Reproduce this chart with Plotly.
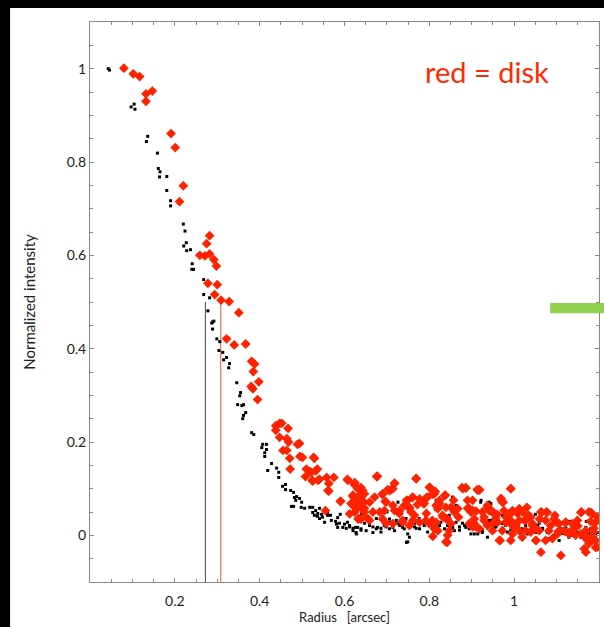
import plotly.graph_objects as go

# Black points: (radius, intensity)
black_x = [0.043,0.046,0.097,0.104,0.106,0.133,0.136,0.159,0.161,0.165,0.164,0.181,0.181,0.190,0.190,
           0.220,0.224,0.227,0.221,0.228,0.237,0.241,0.244,0.240,0.268,0.268,0.282,0.278,
           0.287,0.289,0.292,0.289,0.299,0.306,0.304,0.313,0.315,0.322,0.329,0.327,0.346,0.355,0.353,
           0.348,0.358,0.362,0.367,0.362,0.360,0.381,0.386,0.405,0.407,0.416,0.412,0.416,0.412,
           0.428,0.419,0.440,0.445,0.445,0.454,0.461,0.461,0.473,0.480,0.482,0.487,0.494,0.485,0.499,0.475,0.480,
           0.506,0.518,0.532,0.541,0.525,0.536,0.546,0.560,0.567,0.579,0.584,0.581,0.600,0.607,0.626,
           0.498,0.525,0.529,0.537,0.541,0.548,0.553,0.560,0.569,0.588,0.584,0.596,0.604,0.612,0.620,0.627,0.631,
           0.639,0.647,0.659,0.667,0.675,0.678,0.686,0.694,0.706,0.714,0.722,0.729,0.737,0.746,0.745,0.757,0.765,
           0.769,0.776,0.784,0.796,0.808,0.820,0.827,0.843,0.855,0.863,0.871,0.878,0.886,0.894,0.902,0.910,0.918,
           0.925,0.933,0.941,0.945,0.953,0.961,0.973,0.980,0.992,1.000,1.008,1.016,1.027,1.035,1.043,1.051,1.059,
           1.067,1.078,1.086,1.094,1.102,1.114,1.122,1.129,1.141,1.149,1.157,1.169,1.176,1.188,1.196,
           0.855,0.894,0.922,0.985,1.050,1.100,0.700,0.760,0.650,0.815,1.130,1.170,0.590,0.640,
           0.628,0.639,0.651,0.667,0.675,0.686,0.698,0.706,0.718,0.730,0.741,0.749,0.765,0.777,0.788,0.796,
           0.808,0.824,0.836,0.847,0.859,0.871,0.883,0.894,0.906,0.706,0.722,0.769,0.792,0.847,0.863,0.726,
           0.792,0.816,0.855,0.753,0.659,0.612,0.620,0.749,
           0.902,0.914,0.925,0.937,0.945,0.957,0.972,0.984,0.996,1.008,1.019,1.031,1.047,1.055,1.067,1.086,
           1.098,1.110,1.121,1.133,1.145,1.161,1.172,1.180,1.192,0.921,0.941,0.972,1.027,1.063,1.121,1.145,
           1.082,1.106,0.898]
black_y = [1.000,0.997,0.918,0.924,0.913,0.844,0.855,0.819,0.786,0.779,0.768,0.769,0.739,0.717,0.706,
           0.667,0.652,0.627,0.620,0.610,0.612,0.582,0.570,0.570,0.548,0.516,0.509,0.481,
           0.455,0.457,0.459,0.442,0.421,0.415,0.396,0.392,0.376,0.381,0.368,0.359,0.327,0.306,0.299,
           0.280,0.278,0.280,0.263,0.257,0.250,0.220,0.216,0.188,0.195,0.195,0.177,0.184,0.169,
           0.154,0.139,0.144,0.135,0.124,0.105,0.109,0.098,0.096,0.092,0.081,0.083,0.079,0.075,0.071,0.062,0.062,
           0.058,0.060,0.053,0.058,0.049,0.041,0.045,0.049,0.043,0.030,0.038,0.024,0.024,0.028,0.017,
           0.060,0.060,0.043,0.047,0.036,0.039,0.028,0.043,0.032,0.026,0.017,0.017,0.015,0.021,0.015,0.006,0.017,
           0.011,0.026,0.021,0.006,0.036,0.017,0.015,0.021,0.028,0.017,0.032,0.026,0.017,-0.015,0.036,0.032,0.026,
           0.015,0.036,0.028,0.026,0.032,0.017,0.028,0.021,0.017,0.028,0.011,0.026,0.017,0.028,0.015,0.026,0.017,
           0.006,0.021,0.032,0.068,0.017,0.026,0.015,0.021,0.011,0.026,0.015,0.006,0.021,0.011,0.017,0.006,0.026,
           0.015,0.006,0.017,0.000,0.011,0.004,0.015,-0.004,0.021,0.006,-0.004,0.017,0.004,0.026,0.006,
           0.081,0.075,0.075,0.050,0.045,0.040,0.050,0.048,0.040,0.055,0.030,0.030,0.045,0.045,
           0.003,0.014,0.010,0.018,0.014,0.007,0.018,0.014,0.010,0.021,0.014,0.003,0.018,0.014,0.021,0.007,
           0.018,0.021,0.014,0.025,0.010,0.018,0.021,0.014,0.003,0.035,0.025,0.032,0.039,0.043,0.064,0.071,
           0.075,0.075,0.082,-0.004,0.028,0.018,0.010,-0.014,
           0.028,0.003,0.010,-0.004,0.032,0.018,0.025,0.007,0.018,0.028,0.014,0.003,0.010,0.021,0.014,0.018,
           0.007,0.014,0.003,0.000,0.010,-0.004,0.007,0.014,0.000,0.071,0.071,0.043,0.043,0.035,0.032,0.021,
           -0.007,-0.011,0.003]

# Red points (disk)
red_x = [0.080,0.102,0.117,0.132,0.147,0.132,0.191,0.201,0.220,0.211,
         0.282,0.275,0.259,0.271,0.282,0.292,0.298,0.278,0.300,0.294,0.309,0.328,0.351,
         0.322,0.340,0.367,0.381,0.388,0.385,0.398,0.380,0.384,0.395,
         0.438,0.447,0.452,0.438,0.467,0.447,0.464,0.468,0.489,0.494,0.455,0.464,0.471,0.495,0.501,0.527,0.529,
         0.510,0.472,0.508,0.518,0.532,0.536,0.522,0.558,0.525,0.541,0.524,0.537,0.563,0.561,0.563,0.575,
         0.607,0.591,0.624,0.620,0.555,
         0.590,0.608,0.624,0.620,0.631,0.639,0.635,0.643,0.616,0.627,0.643,0.624,0.639,0.647,0.634,0.655,
         0.676,0.689,0.696,0.702,0.710,0.718,0.698,0.718,0.729,0.741,0.746,0.753,0.760,0.769,0.772,0.765,0.753,
         0.786,0.793,0.802,0.807,0.814,0.793,0.807,0.808,0.824,0.831,0.839,0.838,0.842,0.851,0.857,0.869,0.877,
         0.886,0.890,0.902,0.902,0.918,0.929,0.937,0.947,0.957,0.967,0.969,0.974,0.981,0.990,0.992,0.996,1.000,
         1.008,1.016,1.024,1.034,1.043,1.052,1.063,1.065,1.078,1.086,1.096,1.100,1.110,1.122,1.129,1.141,1.157,
         1.165,1.169,1.173,1.181,1.184,1.188,1.192,1.196,0.677,0.624,0.913,1.150,1.180,1.060,1.030,0.960,
         0.677,0.624,0.643,0.636,0.647,0.620,0.616,0.643,0.632,0.647,0.659,0.671,0.690,0.706,0.714,0.718,
         0.698,0.694,0.714,0.730,0.737,0.749,0.753,0.761,0.757,0.769,0.777,0.788,0.796,0.800,0.812,0.816,
         0.820,0.824,0.836,0.839,0.843,0.832,0.816,0.812,0.820,0.800,0.792,0.847,0.851,0.859,0.867,0.879,
         0.886,0.890,0.894,0.902,0.914,0.906,0.910,0.839,0.843,0.777,0.761,0.737,0.714,0.690,0.683,0.667,
         0.659,0.639,0.632,0.624,0.612,
         0.918,0.992,0.969,0.972,0.894,0.898,0.910,0.925,0.937,0.941,0.949,0.953,0.976,0.988,0.996,1.012,
         1.019,1.027,1.039,1.043,1.063,1.076,1.074,1.094,1.106,1.121,1.137,1.149,1.159,1.176,1.184,1.192,
         0.906,0.929,0.949,0.961,0.980,0.992,1.004,1.012,1.027,1.039,1.051,1.059,1.082,1.090,1.102,1.118,
         1.129,1.145,1.157,1.169,1.176,1.184,1.192,1.165,0.949,0.965,0.992,0.996,1.019,1.051,1.074,0.894,
         0.902,0.918,0.937,0.972,1.012,1.106,1.137,1.169,1.188,1.196]
red_y = [1.001,0.989,0.983,0.946,0.952,0.930,0.861,0.831,0.749,0.715,
         0.642,0.625,0.600,0.599,0.603,0.591,0.577,0.540,0.537,0.516,0.504,0.501,0.477,
         0.421,0.408,0.410,0.373,0.367,0.351,0.329,0.319,0.314,0.291,
         0.235,0.240,0.240,0.225,0.229,0.210,0.207,0.200,0.195,0.197,0.182,0.182,0.165,0.169,0.167,0.167,0.165,
         0.142,0.142,0.126,0.137,0.138,0.142,0.135,0.124,0.116,0.120,0.118,0.118,0.095,0.096,0.111,0.124,
         0.120,0.073,0.108,0.083,0.053,
         0.073,0.118,0.111,0.086,0.100,0.102,0.086,0.089,0.068,0.074,0.074,0.060,0.060,0.058,0.036,0.036,
         0.126,0.088,0.073,0.098,0.098,0.111,0.026,0.053,0.047,0.064,0.075,0.058,0.081,0.122,0.066,0.043,0.021,
         0.068,0.081,0.102,0.088,0.094,0.047,0.032,-0.002,0.068,0.043,0.036,0.086,-0.015,0.060,0.075,0.039,0.102,
         0.102,0.058,0.075,0.053,0.098,0.039,0.064,0.053,0.036,-0.011,0.079,0.071,0.039,0.026,0.100,0.053,0.015,
         0.047,0.053,0.032,0.043,0.021,-0.011,-0.036,0.049,0.049,0.021,0.043,0.028,-0.043,0.028,0.006,0.015,0.049,
         0.006,-0.036,-0.004,0.049,-0.011,0.015,-0.026,0.039,0.126,0.113,0.098,0.020,0.030,0.035,0.060,0.045,
         0.127,0.112,0.096,0.085,0.089,0.085,0.068,0.068,0.060,0.050,0.071,0.082,0.089,0.096,0.100,0.112,
         0.071,0.053,0.064,0.053,0.032,0.075,0.060,0.082,0.050,0.121,0.078,0.068,0.082,0.103,0.089,0.064,
         0.057,0.075,0.085,0.060,0.035,0.039,0.028,0.014,0.010,0.025,0.032,0.010,0.025,0.050,0.057,0.100,
         0.101,0.075,0.057,0.053,0.097,0.025,0.018,-0.014,0.000,0.028,0.032,0.028,0.025,0.035,0.050,0.050,
         0.032,0.035,0.035,0.050,0.046,
         0.097,0.100,0.076,0.071,0.057,0.050,0.052,0.050,0.060,0.053,0.050,0.046,0.053,0.046,0.050,0.057,
         0.050,0.032,0.039,0.025,0.050,0.050,0.032,0.035,0.025,0.028,0.025,0.032,0.050,0.050,0.046,0.028,
         0.035,0.032,0.025,0.028,0.028,0.032,0.021,0.032,0.010,0.007,0.014,0.010,0.010,-0.007,0.003,0.010,
         0.003,0.000,0.003,-0.007,-0.018,-0.004,-0.011,-0.029,0.010,-0.011,-0.011,0.003,-0.004,-0.011,-0.011,0.025,
         0.018,0.014,0.021,0.010,0.010,0.010,0.010,0.010,0.007,-0.025]

# Half-intensity radii
half_black_x = [0.272, 0.272]
half_red_x = [0.308, 0.308]
half_y = [-0.1, 0.5]

x_ticks = [0.2, 0.4, 0.6, 0.8, 1.0]
x_ticklabels = ["0.2", "0.4", "0.6", "0.8", "1"]
y_ticks = [0, 0.2, 0.4, 0.6, 0.8, 1.0]
y_ticklabels = ["0", "0.2", "0.4", "0.6", "0.8", "1"]

FONT = "Lato, Open Sans, sans-serif"

fig = go.Figure()
fig.add_trace(go.Scatter(x=half_black_x, y=half_y, mode="lines",
                         line=dict(color="#444444", width=1), showlegend=False, hoverinfo="skip"))
fig.add_trace(go.Scatter(x=half_red_x, y=half_y, mode="lines",
                         line=dict(color="#f07a70", width=1.3), showlegend=False, hoverinfo="skip"))
fig.add_trace(go.Scatter(x=black_x, y=black_y, mode="markers",
                         marker=dict(symbol="square", size=3, color="#000000", line=dict(width=0)),
                         showlegend=False))
fig.add_trace(go.Scatter(x=red_x, y=red_y, mode="markers",
                         marker=dict(symbol="diamond", size=7.5, color="#ff2200", line=dict(width=0)),
                         showlegend=False))

axis_common = dict(showgrid=False, zeroline=False, showline=True, linecolor="#888888", linewidth=1,
                   mirror="allticks", ticks="inside", ticklen=4, tickcolor="#888888",
                   tickfont=dict(family=FONT, size=14, color="#222222"),
                   minor=dict(ticks="inside", ticklen=3, tickcolor="#888888", dtick=0.05, showgrid=False))

fig.update_xaxes(range=[0, 1.2], tickvals=x_ticks, ticktext=x_ticklabels, ticklabelstandoff=6,
                 title=dict(text="Radius\u00a0\u00a0\u00a0[arcsec]", font=dict(family=FONT, size=13, color="#222222"),
                            standoff=5),
                 **axis_common)
fig.update_yaxes(range=[-0.1, 1.1], tickvals=y_ticks, ticktext=y_ticklabels,
                 title=dict(text="Normalized intensity", font=dict(family=FONT, size=15, color="#222222"),
                            standoff=27),
                 **axis_common)

fig.update_layout(
    width=604, height=627,
    margin=dict(l=90, r=5, t=22, b=45),
    paper_bgcolor="#ffffff", plot_bgcolor="#ffffff",
    shapes=[
        # black frame: left band and top band
        dict(type="rect", xref="paper", yref="paper", x0=-0.2, x1=-0.157, y0=-0.1, y1=1.05,
             fillcolor="#000000", line=dict(width=0), layer="above"),
        dict(type="rect", xref="paper", yref="paper", x0=-0.2, x1=1.05, y0=1.025, y1=1.05,
             fillcolor="#000000", line=dict(width=0), layer="above"),
        dict(type="rect", xref="paper", yref="paper", x0=0.904, x1=1.02, y0=0.480, y1=0.498,
             fillcolor="#92d050", line=dict(width=0), layer="above"),
    ],
    annotations=[
        dict(text="red = disk", xref="paper", yref="paper", x=0.78, y=0.911, showarrow=False,
             font=dict(family=FONT, size=29, color="#ff2a00"), xanchor="center", yanchor="middle"),
    ],
)

fig.write_html("out.html", config={"displayModeBar": False},
               post_script="document.body.style.margin='0';document.body.style.background='#000';")
